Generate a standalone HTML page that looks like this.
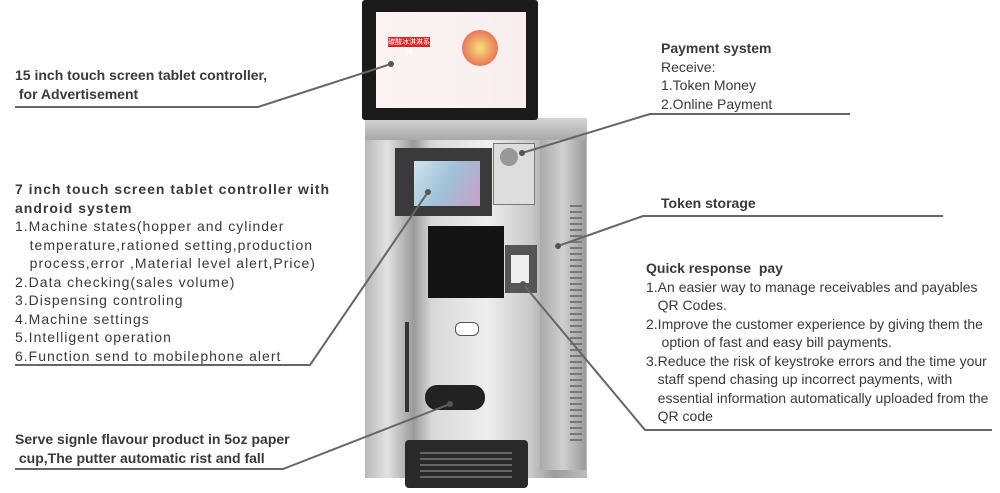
<!DOCTYPE html>
<html><head><meta charset="utf-8"><style>
body{margin:0;width:1000px;height:493px;background:#fff;position:relative;overflow:hidden;font-family:"Liberation Sans",sans-serif;color:#3a3a3a}
.t{position:absolute;font-size:14px;line-height:18.5px;white-space:nowrap}
.b{font-weight:bold}
.a{position:absolute}
.w{letter-spacing:1px}
</style></head><body>
<!-- machine -->
<div class="a" style="left:365px;top:118px;width:222px;height:360px;background:linear-gradient(90deg,#b8b8b8,#e2e2e2 10%,#9a9a9a 22%,#d8d8d8 30%,#eeeeee 55%,#c8c8c8 75%,#9c9c9c 85%,#bdbdbd 100%)"></div>
<div class="a" style="left:365px;top:118px;width:222px;height:22px;background:linear-gradient(#d6d6d6,#a8a8a8)"></div>
<div class="a" style="left:540px;top:140px;width:46px;height:330px;background:linear-gradient(90deg,#aaa,#d0d0d0,#9a9a9a)"></div>
<div class="a" style="left:570px;top:205px;width:12px;height:240px;background:repeating-linear-gradient(#777 0 2px,transparent 2px 6px)"></div>
<div class="a" style="left:395px;top:148px;width:97px;height:68px;background:#3a3a3a"></div>
<div class="a" style="left:414px;top:161px;width:66px;height:45px;background:linear-gradient(120deg,#cfe4f0,#9fc0d8 50%,#c9a0c8)"></div>
<div class="a" style="left:493px;top:143px;width:40px;height:60px;background:#ddd;border:1px solid #777"></div>
<div class="a" style="left:500px;top:148px;width:18px;height:18px;border-radius:50%;background:#999"></div>
<div class="a" style="left:428px;top:226px;width:76px;height:72px;background:#141414"></div>
<div class="a" style="left:505px;top:245px;width:32px;height:48px;background:#555"></div>
<div class="a" style="left:511px;top:255px;width:18px;height:28px;background:#eee"></div>
<div class="a" style="left:455px;top:322px;width:22px;height:12px;border-radius:6px;background:#fff;border:1px solid #555"></div>
<div class="a" style="left:405px;top:322px;width:4px;height:90px;background:#333"></div>
<div class="a" style="left:425px;top:385px;width:60px;height:25px;border-radius:12px;background:#222"></div>
<div class="a" style="left:405px;top:440px;width:123px;height:48px;background:#2a2a2a;border-radius:4px"></div>
<div class="a" style="left:420px;top:448px;width:92px;height:30px;background:repeating-linear-gradient(#2a2a2a 0 4px,#666 4px 6px)"></div>
<!-- tablet -->
<div class="a" style="left:362px;top:0;width:176px;height:120px;background:#1a1a1a;border-radius:3px"></div>
<div class="a" style="left:376px;top:12px;width:150px;height:96px;background:linear-gradient(90deg,#fbf4f2,#f8eeee)"></div>
<div class="a" style="left:388px;top:37px;width:42px;height:10px;background:#d22;color:#fff;font-size:7px;line-height:10px;font-family:'Noto Sans CJK SC',sans-serif;text-align:center">碳酸冰淇淋系列</div>
<div class="a" style="left:462px;top:30px;width:36px;height:36px;border-radius:50%;background:radial-gradient(#f7e17a,#e64b4b)"></div>
<!-- lines -->
<svg class="a" style="left:0;top:0" width="1000" height="493">
<g stroke="#666" stroke-width="2" fill="none">
<polyline points="15,107 258,107 391,64"/>
<polyline points="15,365 310,365 428,192"/>
<polyline points="15,469 283,469 450,404"/>
<polyline points="522,153 650,114 850,114"/>
<polyline points="558,246 643,216 943,216"/>
<polyline points="523,284 645,430 992,430"/>
</g>
<g fill="#555"><circle cx="391" cy="64" r="3"/><circle cx="428" cy="192" r="3"/><circle cx="450" cy="404" r="3"/><circle cx="522" cy="153" r="3"/><circle cx="558" cy="246" r="3"/><circle cx="523" cy="284" r="3"/></g>
</svg>
<!-- text -->
<div class="t b" style="left:15px;top:66px">15 inch touch screen tablet controller,<br>&nbsp;for Advertisement</div>
<div class="t w" style="left:15px;top:180px"><b>7 inch touch screen tablet controller with<br>android system</b><br>1.Machine states(hopper and cylinder<br>&nbsp;&nbsp;&nbsp;temperature,rationed setting,production<br>&nbsp;&nbsp;&nbsp;process,error ,Material level alert,Price)<br>2.Data checking(sales volume)<br>3.Dispensing controling<br>4.Machine settings<br>5.Intelligent operation<br>6.Function send to mobilephone alert</div>
<div class="t b" style="left:15px;top:430px">Serve signle flavour product in 5oz paper<br>&nbsp;cup,The putter automatic rist and fall</div>
<div class="t" style="left:661px;top:39px"><b>Payment system</b><br>Receive:<br>1.Token Money<br>2.Online Payment</div>
<div class="t b" style="left:661px;top:194px">Token storage</div>
<div class="t" style="left:646px;top:259px"><b>Quick response&nbsp; pay</b><br>1.An easier way to manage receivables and payables<br>&nbsp;&nbsp;&nbsp;QR Codes.<br>2.Improve the customer experience by giving them the<br>&nbsp;&nbsp;&nbsp;&nbsp;option of fast and easy bill payments.<br>3.Reduce the risk of keystroke errors and the time your<br>&nbsp;&nbsp;&nbsp;staff spend chasing up incorrect payments, with<br>&nbsp;&nbsp;&nbsp;essential information automatically uploaded from the<br>&nbsp;&nbsp;&nbsp;QR code</div>
</body></html>
